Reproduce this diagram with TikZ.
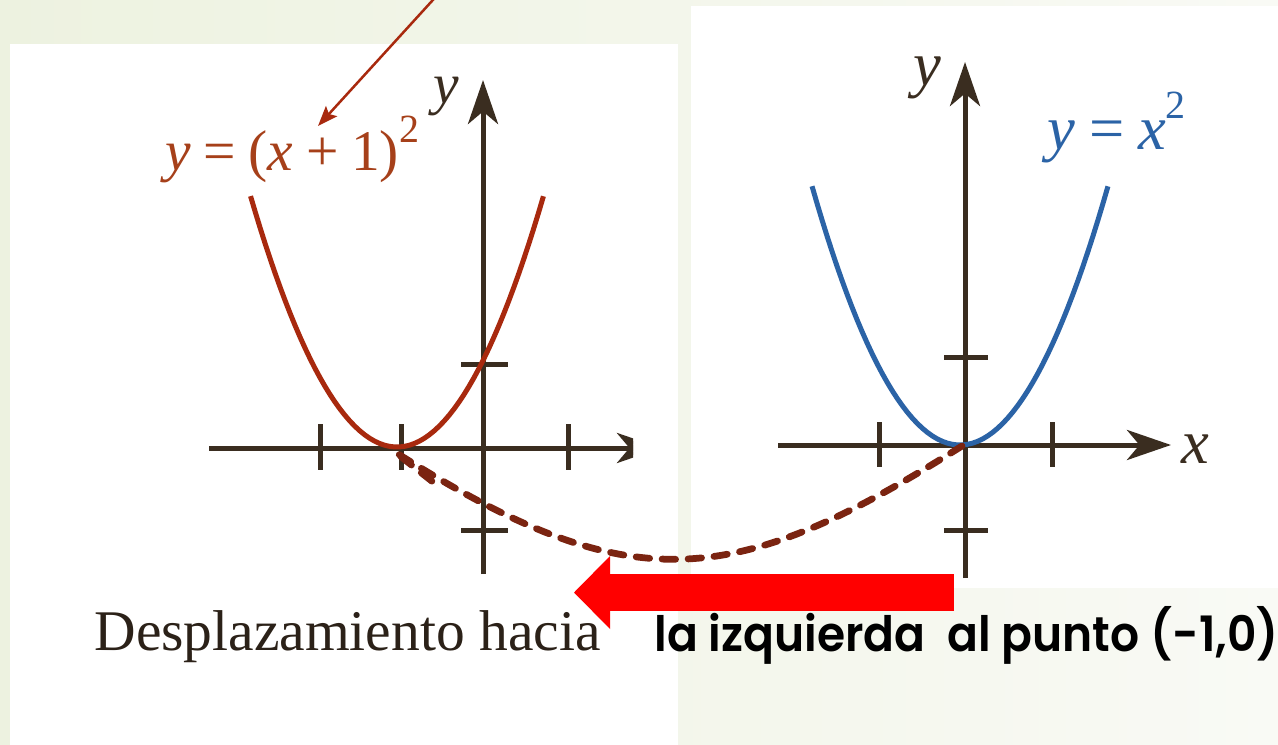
\documentclass[tikz,border=0pt]{standalone}
\usepackage{fontspec}
\setmainfont{Liberation Serif}
\newfontfamily\slidefont{Poppins}[BoldFont={Poppins SemiBold}]
\usetikzlibrary{arrows.meta}
\definecolor{bgGreen}{HTML}{EDF2E0}
\definecolor{bgPale}{HTML}{F9FAF5}
\definecolor{axisBrown}{HTML}{3A2D20}
\definecolor{shiftRed}{HTML}{A8290E}
\definecolor{labelRed}{HTML}{A6401A}
\definecolor{dashBrown}{HTML}{7B2411}
\definecolor{curveBlue}{HTML}{2B63A6}
\definecolor{textDark}{HTML}{2B2118}
\newcommand{\sqr}{\raisebox{0.5em}{\fontsize{16}{16}\selectfont 2}}
\newcommand{\gap}{\hspace{0.22em}}
\tikzset{
  every node/.style={inner sep=0pt, anchor=base west},
  axisline/.style={draw=axisBrown, line width=2pt},
  axisarr/.style={axisline, -{Stealth[length=17.6pt, width=12pt, inset=5pt]}},
  tickmark/.style={draw=axisBrown, line width=2pt},
  curveL/.style={draw=shiftRed, line width=2pt},
  curveR/.style={draw=curveBlue, line width=2pt},
  shiftpath/.style={draw=dashBrown, line width=2.7pt, line cap=round, dash pattern=on 5.4pt off 5pt},
  bigarr/.style={draw=red, line width=14.8pt, -{Triangle[length=14.4pt, width=29.2pt, line width=0pt]}},
  pointer/.style={draw=shiftRed, line width=1pt, -{Stealth[length=8pt, width=6pt, inset=1.5pt]}},
  eqtext/.style={font=\fontsize{23}{26}\selectfont},
  eqbig/.style={font=\fontsize{25}{28}\selectfont},
}

\begin{document}
\begin{tikzpicture}[x=0.4pt, y=-0.4pt]
  \useasboundingbox (0,0) rectangle (1278,745);
  \shade[left color=bgGreen, right color=bgPale] (0,0) rectangle (1278,745);
  \fill[white] (10,44) rectangle (678,745);
  \fill[white] (691,6) rectangle (1278,588);

  \coordinate (oL) at (483,448);
  \coordinate (oR) at (965,445);
  \coordinate (vtxL) at (395,452);
  \coordinate (vtxR) at (962,446);
  \coordinate (barb) at (438,486);
  \coordinate (annotstart) at (442,-10);
  \coordinate (annottip) at (318,126);
  \coordinate (shiftfrom) at (954,592.5);
  \coordinate (shiftto) at (574,592.5);

  \begin{scope}
    \clip (10,44) rectangle (633,745);
    \draw[axisarr] (209,448) -- (661,448);
  \end{scope}
  \draw[axisarr] (483,574) -- (483,80);
  \foreach \tx in {320,401,568} \draw[tickmark] (\tx,424) -- (\tx,470);
  \foreach \ty in {364,530} \draw[tickmark] (461,\ty) -- (508,\ty);
  \draw[curveL] plot[domain=-1.713:1.713, samples=60] ({397+85.5*\x},{447-85.5*\x*\x});

  \draw[axisarr] (778,445) -- (1171,445);
  \draw[axisarr] (965,578) -- (965,62);
  \foreach \tx in {879,1052} \draw[tickmark] (\tx,422) -- (\tx,467);
  \foreach \ty in {357,530} \draw[tickmark] (944,\ty) -- (988,\ty);
  \draw[curveR] plot[domain=-1.749:1.749, samples=60] ({960+84.6*\x},{445-84.6*\x*\x});

  \node[eqtext, text=labelRed] (leftlabel) at (165,171)
    {\itshape y\upshape\gap=\gap(\itshape x\upshape\gap+\gap1)\sqr};
  \node[eqtext, text=axisBrown] (ylabL) at (433,104) {\itshape y};
  \node[eqbig, text=curveBlue] (rightlabel) at (1047,150)
    {\itshape y\upshape\gap=\gap\itshape x\upshape\sqr};
  \node[eqbig, text=axisBrown] (ylabR) at (913,86) {\itshape y};
  \node[eqbig, text=axisBrown] (xlabR) at (1181,463) {\itshape x};

  \draw[shiftpath] (vtxR) .. controls (729,593) and (628,599) .. (vtxL) -- (barb);
  \draw[bigarr] (shiftfrom) -- (shiftto);
  \draw[pointer] (annotstart) -- (annottip);

  \node[eqtext, text=textDark] (shiftA) at (94,650) {Desplazamiento hacia};
  \node[font=\slidefont\bfseries\fontsize{19.5}{22}\selectfont] (shiftB) at (654,651)
    {\scalebox{0.935}[1]{la izquierda\ \ al punto (-1,0)}};
\end{tikzpicture}
\end{document}
